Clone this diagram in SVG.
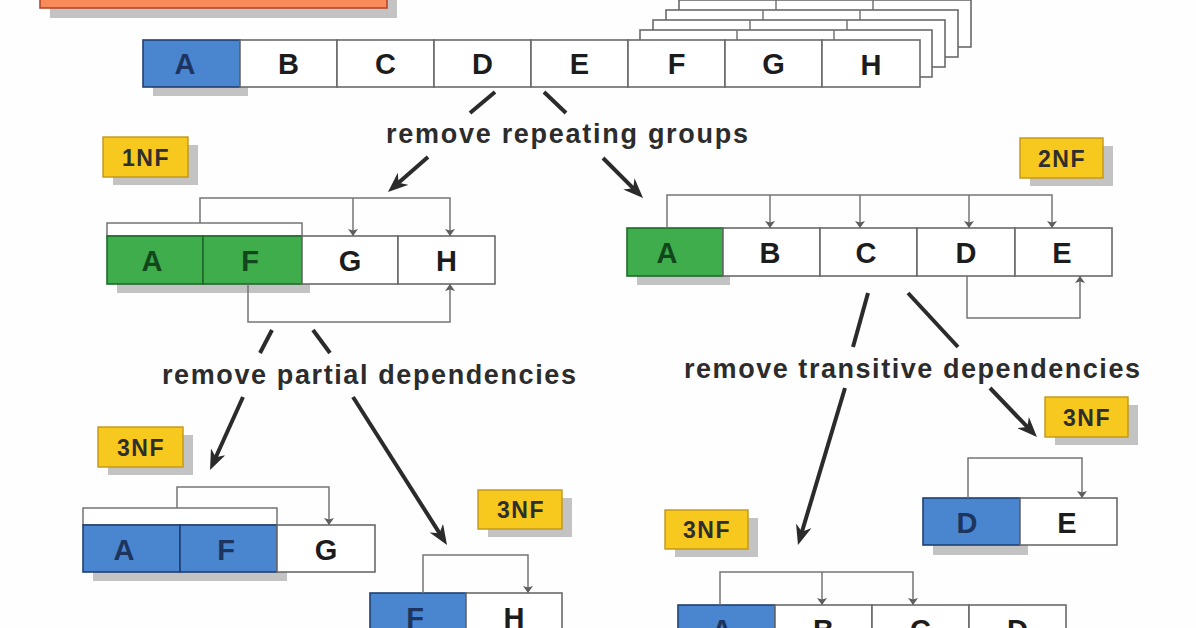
<svg xmlns="http://www.w3.org/2000/svg" width="1196" height="628" viewBox="0 0 1196 628">
<defs>
<style>
.bg{fill:#fefefe}
.shadow{fill:#c3c3c3}
.cell{fill:#ffffff;stroke:#6a6a6a;stroke-width:1.6}
.blue{fill:#4a86d0;stroke:#1f3f72;stroke-width:1.6}
.green{fill:#3fad4b;stroke:#1e6a2a;stroke-width:1.6}
.hdr{fill:#ffffff;stroke:#6a6a6a;stroke-width:1.4}
.badge{fill:#f7c81d;stroke:#c2951a;stroke-width:1.4}
.orange{fill:#f78b5a;stroke:#b9472a;stroke-width:1.6}
.t{font-family:"Liberation Sans",Arial,sans-serif;font-weight:bold;font-size:29px;text-anchor:middle}
.tw{fill:#1c1c1c}
.tb{fill:#1d355e}
.tg{fill:#12461d}
.bt{font-family:"Liberation Sans",Arial,sans-serif;font-weight:bold;font-size:23px;text-anchor:middle;fill:#2e2e2e;letter-spacing:1.5px}
.lab{font-family:"Liberation Sans",Arial,sans-serif;font-weight:bold;font-size:27px;fill:#2c2c2c}
.big{fill:none;stroke:#2b2b2b;stroke-width:4}
.dep{fill:none;stroke:#767676;stroke-width:1.5}
</style>
<marker id="bigArrow" viewBox="0 0 20 16" refX="14" refY="8" markerWidth="20" markerHeight="16" markerUnits="userSpaceOnUse" orient="auto">
<path d="M0,0 L20,8 L0,16 L6,8 z" fill="#2b2b2b"/>
</marker>
<marker id="depArrow" viewBox="0 0 7 10" refX="7" refY="5" markerWidth="7" markerHeight="10" markerUnits="userSpaceOnUse" orient="auto">
<path d="M0,0 L7,5 L0,10 L1.5,5 z" fill="#5e5e5e"/>
</marker>
</defs>
<rect class="bg" x="0" y="0" width="1196" height="628"/>

<g id="title-box">
<rect class="shadow" x="50" y="-30" width="347" height="48"/>
<rect class="orange" x="40" y="-40" width="347" height="48"/>
</g>

<g id="unnormalized">
<rect class="cell" x="679" y="0" width="292" height="47"/>
<line class="dep" x1="776" y1="0" x2="776" y2="47"/><line class="dep" x1="873" y1="0" x2="873" y2="47"/>
<rect class="cell" x="666" y="10" width="292" height="47"/>
<line class="dep" x1="763" y1="10" x2="763" y2="57"/><line class="dep" x1="860" y1="10" x2="860" y2="57"/>
<rect class="cell" x="653" y="20" width="292" height="47"/>
<line class="dep" x1="750" y1="20" x2="750" y2="67"/><line class="dep" x1="847" y1="20" x2="847" y2="67"/>
<rect class="cell" x="640" y="30" width="292" height="47"/>
<line class="dep" x1="737" y1="30" x2="737" y2="77"/><line class="dep" x1="834" y1="30" x2="834" y2="77"/>
<rect class="shadow" x="153" y="87" width="95" height="9"/>
<rect class="blue" x="143" y="40" width="97" height="47"/>
<rect class="cell" x="240" y="40" width="97" height="47"/>
<rect class="cell" x="337" y="40" width="97" height="47"/>
<rect class="cell" x="434" y="40" width="97" height="47"/>
<rect class="cell" x="531" y="40" width="97" height="47"/>
<rect class="cell" x="628" y="40" width="97" height="47"/>
<rect class="cell" x="725" y="40" width="97" height="47"/>
<rect class="cell" x="822" y="40" width="98" height="47"/>
<text class="t tb" x="185" y="74">A</text>
<text class="t tw" x="288.5" y="74">B</text>
<text class="t tw" x="385.5" y="74">C</text>
<text class="t tw" x="482.5" y="74">D</text>
<text class="t tw" x="579.5" y="74">E</text>
<text class="t tw" x="676.5" y="74">F</text>
<text class="t tw" x="773.5" y="74">G</text>
<text class="t tw" x="871" y="75">H</text>
</g>

<g id="badge-1nf">
<rect class="shadow" x="113" y="145" width="85" height="40"/>
<rect class="badge" x="103" y="137" width="85" height="40"/>
<text class="bt" x="146" y="166">1NF</text>
</g>
<g id="badge-2nf">
<rect class="shadow" x="1030" y="146" width="83" height="40"/>
<rect class="badge" x="1020" y="138" width="83" height="40"/>
<text class="bt" x="1062" y="167">2NF</text>
</g>
<g id="badge-3nf-af">
<rect class="shadow" x="108" y="435" width="85" height="40"/>
<rect class="badge" x="98" y="427" width="85" height="40"/>
<text class="bt" x="141" y="456">3NF</text>
</g>
<g id="badge-3nf-fh">
<rect class="shadow" x="488" y="498" width="84" height="39"/>
<rect class="badge" x="478" y="490" width="84" height="39"/>
<text class="bt" x="521" y="518">3NF</text>
</g>
<g id="badge-3nf-abcd">
<rect class="shadow" x="675" y="518" width="83" height="39"/>
<rect class="badge" x="665" y="510" width="83" height="39"/>
<text class="bt" x="707" y="538">3NF</text>
</g>
<g id="badge-3nf-de">
<rect class="shadow" x="1055" y="405" width="83" height="40"/>
<rect class="badge" x="1045" y="397" width="83" height="40"/>
<text class="bt" x="1087" y="426">3NF</text>
</g>

<g id="table-1nf">
<rect class="hdr" x="107" y="223" width="195" height="13"/>
<rect class="shadow" x="117" y="284" width="193" height="9"/>
<rect class="green" x="107" y="236" width="96" height="48"/>
<rect class="green" x="203" y="236" width="99" height="48"/>
<rect class="cell" x="302" y="236" width="96" height="48"/>
<rect class="cell" x="398" y="236" width="97" height="48"/>
<text class="t tg" x="152" y="271">A</text>
<text class="t tg" x="250" y="271">F</text>
<text class="t tw" x="350" y="271">G</text>
<text class="t tw" x="446.5" y="271">H</text>
</g>

<g id="table-2nf">
<rect class="shadow" x="637" y="276" width="93" height="9"/>
<rect class="green" x="627" y="228" width="96" height="48"/>
<rect class="cell" x="723" y="228" width="97" height="48"/>
<rect class="cell" x="820" y="228" width="97" height="48"/>
<rect class="cell" x="917" y="228" width="98" height="48"/>
<rect class="cell" x="1015" y="228" width="97" height="48"/>
<text class="t tg" x="667" y="263">A</text>
<text class="t tw" x="770" y="263">B</text>
<text class="t tw" x="866" y="263">C</text>
<text class="t tw" x="966" y="263">D</text>
<text class="t tw" x="1062" y="263">E</text>
</g>

<g id="table-3nf-af">
<rect class="hdr" x="83" y="508" width="194" height="17"/>
<rect class="shadow" x="93" y="572" width="194" height="9"/>
<rect class="blue" x="83" y="525" width="97" height="47"/>
<rect class="blue" x="180" y="525" width="97" height="47"/>
<rect class="cell" x="277" y="525" width="98" height="47"/>
<text class="t tb" x="124" y="560">A</text>
<text class="t tb" x="226" y="560">F</text>
<text class="t tw" x="326" y="560">G</text>
</g>

<g id="table-3nf-fh">
<rect class="blue" x="370" y="593" width="96" height="48"/>
<rect class="cell" x="466" y="593" width="96" height="48"/>
<text class="t tb" x="415" y="628">F</text>
<text class="t tw" x="514" y="628">H</text>
</g>

<g id="table-3nf-abcd">
<rect class="blue" x="678" y="605" width="97" height="48"/>
<rect class="cell" x="775" y="605" width="97" height="48"/>
<rect class="cell" x="872" y="605" width="97" height="48"/>
<rect class="cell" x="969" y="605" width="97" height="48"/>
<text class="t tb" x="722" y="640">A</text>
<text class="t tw" x="823.5" y="640">B</text>
<text class="t tw" x="920.5" y="640">C</text>
<text class="t tw" x="1017.5" y="640">D</text>
</g>

<g id="table-3nf-de">
<rect class="shadow" x="933" y="545" width="95" height="10"/>
<rect class="blue" x="923" y="498" width="97" height="47"/>
<rect class="cell" x="1020" y="498" width="97" height="47"/>
<text class="t tb" x="967" y="533">D</text>
<text class="t tw" x="1067" y="533">E</text>
</g>

<g id="labels">
<text class="lab" x="386" y="143" textLength="362" lengthAdjust="spacing">remove repeating groups</text>
<text class="lab" x="162" y="384" textLength="414" lengthAdjust="spacing">remove partial dependencies</text>
<text class="lab" x="684" y="378" textLength="456" lengthAdjust="spacing">remove transitive dependencies</text>
</g>

<g id="connectors">
<line class="big" x1="495" y1="92" x2="470" y2="113"/>
<line class="big" x1="544" y1="92" x2="566" y2="113"/>
<line class="big" x1="428" y1="157" x2="392.5" y2="188" marker-end="url(#bigArrow)"/>
<line class="big" x1="603" y1="158" x2="638.8" y2="193.8" marker-end="url(#bigArrow)"/>
<line class="big" x1="272" y1="330" x2="260" y2="353"/>
<line class="big" x1="313" y1="330" x2="330" y2="353"/>
<line class="big" x1="243" y1="397" x2="212.5" y2="464.5" marker-end="url(#bigArrow)"/>
<line class="big" x1="353" y1="397" x2="443.8" y2="539.9" marker-end="url(#bigArrow)"/>
<line class="big" x1="868" y1="293" x2="853" y2="347"/>
<line class="big" x1="908" y1="293" x2="958" y2="347"/>
<line class="big" x1="845" y1="388" x2="799.7" y2="539.3" marker-end="url(#bigArrow)"/>
<line class="big" x1="990" y1="388" x2="1032.8" y2="432.7" marker-end="url(#bigArrow)"/>

<path class="dep" d="M200,223 V198 H450 V236" marker-end="url(#depArrow)"/>
<path class="dep" d="M353,198 V236" marker-end="url(#depArrow)"/>
<path class="dep" d="M248,284 V322 H450 V284" marker-end="url(#depArrow)"/>

<path class="dep" d="M667,228 V195 H1052 V228" marker-end="url(#depArrow)"/>
<path class="dep" d="M770,195 V228" marker-end="url(#depArrow)"/>
<path class="dep" d="M860,195 V228" marker-end="url(#depArrow)"/>
<path class="dep" d="M969,195 V228" marker-end="url(#depArrow)"/>
<path class="dep" d="M967,276 V318 H1080 V276" marker-end="url(#depArrow)"/>

<path class="dep" d="M177,508 V487 H329 V525" marker-end="url(#depArrow)"/>
<path class="dep" d="M423,593 V555 H528 V593" marker-end="url(#depArrow)"/>
<path class="dep" d="M720,605 V572 H913 V605" marker-end="url(#depArrow)"/>
<path class="dep" d="M822,572 V605" marker-end="url(#depArrow)"/>
<path class="dep" d="M968,498 V458 H1082 V498" marker-end="url(#depArrow)"/>
</g>
</svg>
